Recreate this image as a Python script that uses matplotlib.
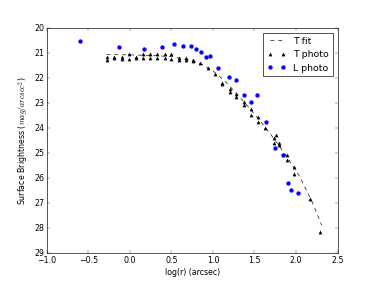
import matplotlib
matplotlib.use("Agg")
import matplotlib.pyplot as plt

# T photometry (log r in arcsec, surface brightness in mag/arcsec^2)
t_logr = [-0.28, -0.28, -0.19, -0.19, -0.10, -0.10, -0.01, -0.01, 0.07, 0.07,
          0.16, 0.16, 0.24, 0.24, 0.33, 0.33, 0.42, 0.42, 0.50, 0.50,
          0.59, 0.59, 0.67, 0.67, 0.76, 0.76, 0.85, 0.94, 1.02,
          1.11, 1.11, 1.20, 1.20, 1.28, 1.28, 1.37, 1.37, 1.46, 1.46,
          1.54, 1.54, 1.63, 1.73, 1.73, 1.76, 1.80, 1.80, 1.89, 1.89,
          1.98, 1.98, 2.17, 2.29]
t_mag = [21.16, 21.27, 21.16, 21.20, 21.16, 21.24, 21.06, 21.26, 21.16, 21.20,
         21.06, 21.20, 21.06, 21.20, 21.06, 21.20, 21.06, 21.20, 21.06, 21.24,
         21.20, 21.27, 21.20, 21.27, 21.29, 21.34, 21.40, 21.62, 21.85,
         22.19, 22.23, 22.43, 22.55, 22.66, 22.78, 22.97, 23.07, 23.26, 23.48,
         23.56, 23.76, 23.99, 24.40, 24.59, 24.28, 24.59, 24.70, 25.08, 25.28,
         25.57, 25.84, 26.85, 28.16]

# T fit curve
fit_logr = [-0.28, 0.0, 0.25, 0.5, 0.7, 0.85, 1.0, 1.15, 1.3, 1.45, 1.6,
            1.75, 1.9, 2.05, 2.2, 2.31]
fit_mag = [21.07, 21.08, 21.10, 21.15, 21.27, 21.42, 21.72, 22.15, 22.68,
           23.25, 23.85, 24.50, 25.20, 25.98, 27.00, 27.90]

# L photometry
l_logr = [-0.60, -0.13, 0.17, 0.39, 0.53, 0.64, 0.73, 0.80, 0.86, 0.92, 0.96,
          1.06, 1.19, 1.28, 1.37, 1.46, 1.53, 1.64, 1.75, 1.84, 1.90, 1.94, 2.02]
l_mag = [20.53, 20.77, 20.86, 20.77, 20.65, 20.72, 20.72, 20.85, 20.96, 21.17,
         21.14, 21.62, 21.95, 22.07, 22.69, 22.97, 22.69, 23.75, 24.80, 25.08,
         26.22, 26.48, 26.60]

plt.style.use("classic")
fig = plt.figure(figsize=(8, 6), dpi=46.875)
ax = fig.add_subplot(111)

ax.plot(fit_logr, fit_mag, "k--", label="T fit")
ax.plot(t_logr, t_mag, "k^", markersize=5, label="T photo")
ax.plot(l_logr, l_mag, "bo", markeredgecolor="b", markersize=6, label="L photo")

ax.set_xlim(-1.0, 2.5)
ax.set_ylim(29, 20)
ax.set_xlabel("log(r) (arcsec)")
ax.set_ylabel("Surface Brightness ($mag/arcsec^2$)")
ax.legend(loc="upper right")

fig.savefig("out.png", dpi=46.875)
